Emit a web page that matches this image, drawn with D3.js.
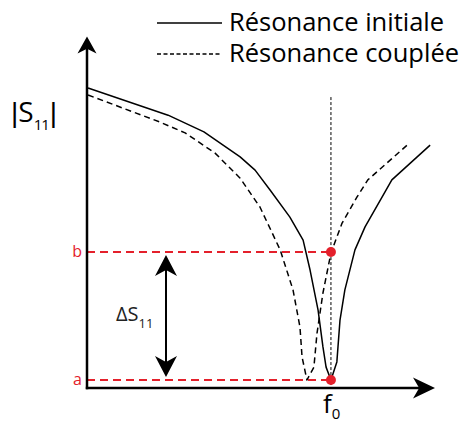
<!DOCTYPE html>
<html>
<head>
<meta charset="utf-8">
<script src="https://cdn.jsdelivr.net/npm/d3@7"></script>
<style>
	body { margin: 0; background: #fff; }
	svg { display: block; font-family: "Open Sans", "Noto Sans", sans-serif; }
	.curve { fill: none; stroke: #000; stroke-width: 1.5; stroke-linejoin: round; }
	.red { fill: #e4202b; }
	.bar { font-family: "Liberation Sans", "DejaVu Sans", sans-serif; }
</style>
</head>
<body>
<svg id="chart" width="475" height="425"></svg>
<script>
// frequency (arbitrary units, 0-100) and |S11| (arbitrary units, 0-100)
var freqInitial = [0.3, 23.3, 33.6, 44.0, 48.3, 52.6, 58.3, 62.1, 64.1, 66.4, 67.8, 68.7, 70.1, 71.8, 72.7, 74.1, 77.0, 79.9, 85.6, 87.6, 98.6];
var s11Initial  = [86.2, 78.4, 73.6, 66.4, 62.6, 56.9, 49.1, 42.5, 33.9, 22.4, 11.8, 6.0, 2.3, 7.5, 19.5, 28.2, 39.7, 46.3, 56.3, 59.8, 69.8];

var freqCoupled = [0.3, 21.0, 28.2, 36.8, 44.0, 49.7, 55.5, 59.2, 61.2, 61.8, 63.2, 65.2, 66.1, 67.8, 70.1, 73.3, 77.6, 80.7, 92.0];
var s11Coupled  = [84.2, 76.4, 73.3, 67.5, 60.3, 52.0, 39.7, 28.2, 17.5, 8.9, 2.3, 6.0, 15.8, 27.3, 38.8, 47.4, 54.9, 59.8, 69.8];

var f0 = 70.1;
var levelNames = ['a', 'b'];
var levelValues = [2.3, 39.1];
var deltaFreq = 22.7;

var legendLabels = ['Résonance initiale', 'Résonance couplée'];

var svg = d3.select('#chart');

var x = d3.scaleLinear().domain([0, 100]).range([87, 435]);
var y = d3.scaleLinear().domain([0, 100]).range([388, 40]);

var red = '#e4202b';

function arrowHead(tx, ty, angle, len, wid) {
	// notched arrow head pointing along angle (degrees)
	var p = [[0, 0], [-len, -wid / 2], [-len * 0.72, 0], [-len, wid / 2]];
	return svg.append('path')
		.attr('d', 'M' + p.map(function (d) { return d.join(','); }).join('L') + 'Z')
		.attr('transform', 'translate(' + tx + ',' + ty + ') rotate(' + angle + ')')
		.attr('fill', '#000');
}

// red level lines
levelValues.forEach(function (v, i) {
	svg.append('line')
		.attr('x1', x(0)).attr('x2', x(f0))
		.attr('y1', y(v)).attr('y2', y(v))
		.attr('stroke', red).attr('stroke-width', 2)
		.attr('stroke-dasharray', '8,5');
	svg.append('text')
		.attr('class', 'red')
		.attr('x', x(0) - 5).attr('y', y(v) + 5)
		.attr('text-anchor', 'end')
		.attr('font-size', 16)
		.text(levelNames[i]);
});

// f0 marker line
svg.append('line')
	.attr('x1', x(f0)).attr('x2', x(f0))
	.attr('y1', y(83.6)).attr('y2', y(0))
	.attr('stroke', '#000').attr('stroke-width', 1)
	.attr('stroke-dasharray', '3,2');

var line = d3.line()
	.x(function (d) { return x(d[0]); })
	.y(function (d) { return y(d[1]); })
	.curve(d3.curveLinear);

svg.append('path')
	.attr('class', 'curve')
	.attr('d', line(d3.zip(freqInitial, s11Initial)));

svg.append('path')
	.attr('class', 'curve')
	.attr('stroke-dasharray', '6,4')
	.attr('d', line(d3.zip(freqCoupled, s11Coupled)));

// axes
svg.append('line')
	.attr('x1', x(0)).attr('x2', x(0))
	.attr('y1', y(0) + 1.2).attr('y2', y(99))
	.attr('stroke', '#000').attr('stroke-width', 2.5);
svg.append('line')
	.attr('x1', x(0) - 1.2).attr('x2', x(98))
	.attr('y1', y(0)).attr('y2', y(0))
	.attr('stroke', '#000').attr('stroke-width', 2.5);
arrowHead(x(0), y(101), -90, 17, 19);
arrowHead(x(100), y(0), 0, 22, 21);

// red dots
levelValues.forEach(function (v) {
	svg.append('circle')
		.attr('cx', x(f0)).attr('cy', y(v))
		.attr('r', 5)
		.attr('fill', red);
});

// delta arrow
svg.append('line')
	.attr('x1', x(deltaFreq)).attr('x2', x(deltaFreq))
	.attr('y1', y(levelValues[1]) + 12).attr('y2', y(levelValues[0]) - 12)
	.attr('stroke', '#000').attr('stroke-width', 2);
arrowHead(x(deltaFreq), y(levelValues[1]) + 3, -90, 21, 22);
arrowHead(x(deltaFreq), y(levelValues[0]) - 3, 90, 21, 22);

var dl = svg.append('text')
	.attr('x', x(deltaFreq) - 50).attr('y', 321)
	.attr('font-size', 20)
	.attr('fill', '#222');
dl.append('tspan').text('ΔS');
dl.append('tspan').attr('font-size', 13).attr('dy', 7).text('11');

// y label
var yl = svg.append('text')
	.attr('x', 11).attr('y', 122)
	.attr('font-size', 28);
yl.append('tspan').attr('class', 'bar').text('|');
yl.append('tspan').text('S');
yl.append('tspan').attr('font-size', 15).attr('dy', 8).attr('letter-spacing', -1).text('11');
yl.append('tspan').attr('class', 'bar').attr('dy', -8).attr('dx', 1).text('|');

// x label
var xl = svg.append('text')
	.attr('x', x(f0) - 8).attr('y', 413)
	.attr('font-size', 26);
xl.append('tspan').text('f');
xl.append('tspan').attr('font-size', 15).attr('dy', 6).text('0');

// legend
var legend = svg.append('g').attr('class', 'legend');
legendLabels.forEach(function (label, i) {
	var ly = 23 + i * 31;
	legend.append('line')
		.attr('x1', 157).attr('x2', 222)
		.attr('y1', ly).attr('y2', ly)
		.attr('stroke', '#000').attr('stroke-width', 1.5)
		.attr('stroke-dasharray', i ? '4,2.5' : null);
	legend.append('text')
		.attr('x', 229).attr('y', ly + 8)
		.attr('font-size', 25.5)
		.text(label);
});
</script>
</body>
</html>
